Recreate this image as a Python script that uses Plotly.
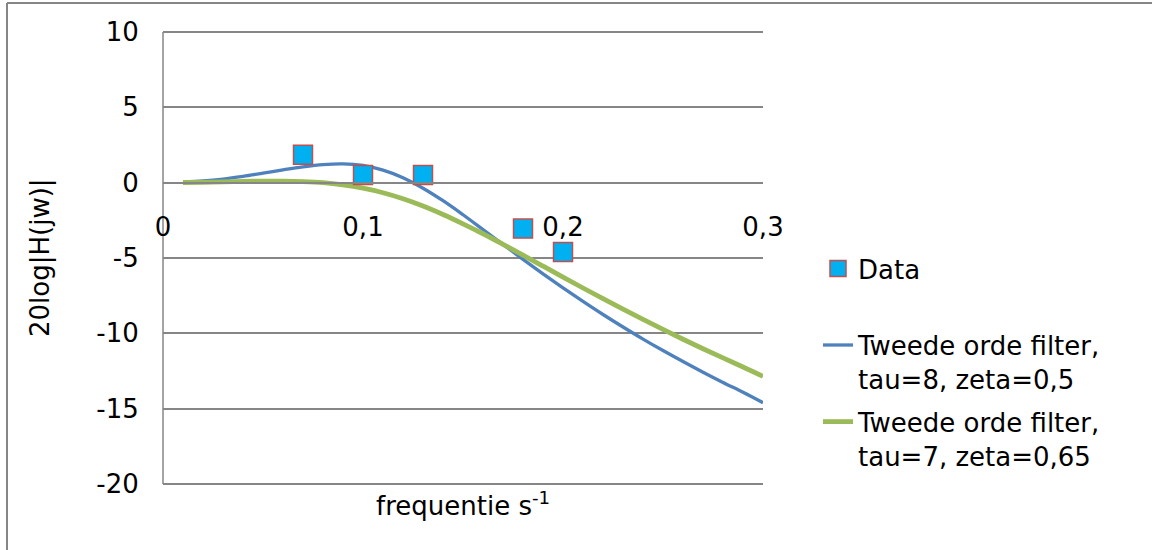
import plotly.graph_objects as go

# ---- data ----
freq = [0.01, 0.02, 0.03, 0.04, 0.05, 0.06, 0.07, 0.08, 0.09, 0.10,
        0.11, 0.12, 0.13, 0.14, 0.15, 0.16, 0.17, 0.18, 0.19, 0.20,
        0.21, 0.22, 0.23, 0.24, 0.25, 0.26, 0.27, 0.28, 0.29, 0.30]
blue_db = [0.03, 0.11, 0.24, 0.42, 0.63, 0.85, 1.05, 1.20, 1.25, 1.14,
           0.83, 0.33, -0.37, -1.20, -2.13, -3.11, -4.10, -5.09, -6.05, -6.98,
           -7.88, -8.75, -9.58, -10.38, -11.14, -11.87, -12.58, -13.26, -13.91, -14.60]
green_db = [0.01, 0.02, 0.05, 0.08, 0.10, 0.10, 0.07, 0.00, -0.15, -0.37,
            -0.67, -1.07, -1.55, -2.11, -2.73, -3.39, -4.09, -4.81, -5.54, -6.27,
            -6.99, -7.70, -8.40, -9.08, -9.74, -10.39, -11.02, -11.63, -12.23, -12.85]
data_x = [0.07, 0.10, 0.13, 0.18, 0.20]
data_y = [1.85, 0.5, 0.5, -3.05, -4.6]

y_tickvals = [-20, -15, -10, -5, 0, 5, 10]
y_ticktext = ["-20", "-15", "-10", "-5", "0", "5", "10"]
x_tickvals = [0, 0.1, 0.2, 0.3]
x_ticktext = ["0", "0,1", "0,2", "0,3"]

names = ["Data",
         "Tweede orde filter,<br>tau=8, zeta=0,5",
         "Tweede orde filter,<br>tau=7, zeta=0,65"]

FONT = "DejaVu Sans"
FS = 26
GRID = "#868686"

fig = go.Figure()
fig.add_trace(go.Scatter(x=freq, y=blue_db, mode="lines", name=names[1],
                         line=dict(color="#4F81BD", width=3.3, shape="spline"),
                         legendgroup="b", legendrank=2))
fig.add_trace(go.Scatter(x=freq, y=green_db, mode="lines", name=names[2],
                         line=dict(color="#9BBB59", width=4.8, shape="spline"),
                         legendgroup="c", legendrank=3))
fig.add_trace(go.Scatter(x=data_x, y=data_y, mode="markers", name=names[0] + "<br> ",
                         marker=dict(symbol="square", size=19, color="#00B0F0",
                                     line=dict(color="#C0504D", width=1.5)),
                         legendgroup="a", legendrank=1))

# plot area in pixels (y range padded slightly so the edge gridlines are drawn)
L, R, T, B = 163, 763, 30, 486
W, H = 1152, 550
YPAD = 0.13
YMIN, YMAX = -20 - YPAD, 10 + YPAD

def px(xp):
    return (xp - L) / (R - L)

def py(yp):
    return (B - yp) / (B - T)

fig.update_layout(
    width=W, height=H,
    margin=dict(l=L, r=W - R, t=T, b=H - B),
    paper_bgcolor="white", plot_bgcolor="white",
    separators=",.",
    font=dict(family=FONT, size=FS, color="black"),
    showlegend=True,
    legend=dict(x=px(818), y=py(245), xanchor="left", yanchor="top",
                valign="top", tracegroupgap=6,
                font=dict(family=FONT, size=FS, color="black"),
                bgcolor="rgba(0,0,0,0)"),
    xaxis=dict(range=[0, 0.3], tickmode="array", tickvals=x_tickvals, ticktext=x_ticktext,
               showgrid=False, zeroline=False,
               showline=True, linecolor=GRID, linewidth=1.5,
               anchor="free", position=(0 - YMIN) / (YMAX - YMIN),
               ticks="outside", ticklen=21, tickcolor="rgba(0,0,0,0)",
               tickfont=dict(family=FONT, size=FS, color="black")),
    yaxis=dict(range=[YMIN, YMAX], tickmode="array", tickvals=y_tickvals, ticktext=y_ticktext,
               showgrid=True, gridcolor=GRID,
               gridwidth=1.5, zeroline=False, showline=False,
               ticks="outside", ticklen=18, tickcolor="rgba(0,0,0,0)",
               tickfont=dict(family=FONT, size=FS, color="black")),
    annotations=[
        dict(text="20log|H(jw)|", xref="paper", yref="paper", x=px(40), y=0.5,
             textangle=-90, showarrow=False, xanchor="center", yanchor="middle",
             font=dict(family=FONT, size=FS, color="black")),
        dict(text="frequentie s<sup>-1</sup>", xref="paper", yref="paper", x=0.5,
             y=py(504), showarrow=False, xanchor="center", yanchor="middle",
             font=dict(family=FONT, size=FS, color="black")),
    ],
    shapes=[
        # vertical axis line spanning the tick range
        dict(type="line", xref="paper", yref="y", x0=0, x1=0,
             y0=y_tickvals[0], y1=y_tickvals[-1], line=dict(color=GRID, width=1.5),
             layer="below"),
        # chart-area frame (top and left edges visible)
        dict(type="line", xref="paper", yref="paper", x0=px(7), x1=px(1160),
             y0=py(3), y1=py(3), line=dict(color=GRID, width=2)),
        dict(type="line", xref="paper", yref="paper", x0=px(7), x1=px(7),
             y0=py(3), y1=py(560), line=dict(color=GRID, width=2)),
    ],
)

fig.write_html("out.html")
